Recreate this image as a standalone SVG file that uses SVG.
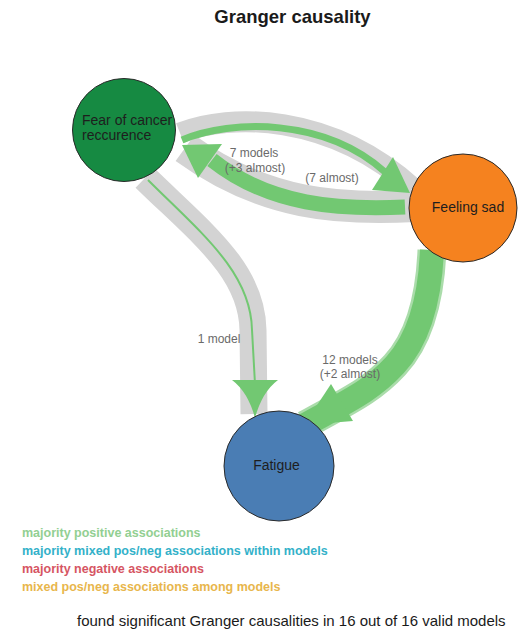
<svg xmlns="http://www.w3.org/2000/svg" width="528" height="633" viewBox="0 0 528 633">
<style>
.halo{fill:none;stroke:#d3d3d3;stroke-linecap:butt}
.gr{fill:none;stroke:#72c872;stroke-linecap:butt}
.ah{fill:#72c872}
.node{stroke:#2a2a2a;stroke-width:1}
.nt{font-family:"Liberation Sans",Arial,sans-serif;font-size:14px;fill:#1e1e1e}
.el{font-family:"Liberation Sans",Arial,sans-serif;font-size:12px;fill:#6a6a6a;text-anchor:middle}
.lg{font-family:"Liberation Sans",Arial,sans-serif;font-size:12.5px;font-weight:bold}
</style>
<rect width="528" height="633" fill="#ffffff"/>
<text x="292.5" y="23" text-anchor="middle" font-family="Liberation Sans, Arial, sans-serif" font-size="18.5" font-weight="bold" fill="#1a1a1a">Granger causality</text>
<g id="connectors">
  <!-- Fear -> Feeling sad (upper arc) -->
  <path class="halo" stroke-width="21" d="M180,133 C230,113 330,113 413,188"/>
  <!-- Feeling sad -> Fear (lower arc) -->
  <path class="halo" stroke-width="32" d="M415,206 C340,210 265,206 185,148"/>
  <!-- Fear -> Fatigue -->
  <path class="halo" stroke-width="27" d="M145,178 C200,232 252,270 253,330 L254,414"/>
  <!-- Feeling sad -> Fatigue -->
  <path fill="none" stroke="#aadcaa" stroke-width="29" d="M432,250 C430,300 418,340 395,365 C372,390 350,400 305,425"/>
  <!-- green cores -->
  <path class="gr" stroke-width="7" d="M182,140 C232,119 325,118 385,172"/>
  <path class="ah" d="M410,193 L393,157 L372,190 Z"/>
  <path class="gr" stroke-width="15" d="M405,207 C340,210 270,206 212,160"/>
  <path class="ah" d="M182,145 L222,144 L198,178 Z"/>
  <path class="gr" stroke-width="2" d="M148,180 C200,232 251,272 252,330 L255,384"/>
  <path class="ah" d="M232,380 L278,380 Q262,392 255,418 Q248,392 232,380 Z"/>
  <path class="gr" stroke-width="24" d="M432,250 C430,300 418,340 395,365 C372,390 350,400 305,425"/>
  <path class="ah" d="M331,384 L353,421 L304,425 Z"/>
</g>
<g id="node-fear">
  <circle class="node" cx="124" cy="130" r="51.5" fill="#168a42"/>
  <text class="nt" x="82" y="125">Fear of cancer</text>
  <text class="nt" x="82" y="140">reccurence</text>
</g>
<g id="node-sad">
  <circle class="node" cx="463" cy="208" r="54" fill="#f5821f"/>
  <text class="nt" x="468" y="212" text-anchor="middle">Feeling sad</text>
</g>
<g id="node-fatigue">
  <circle class="node" cx="279" cy="466" r="55" fill="#4a7db4"/>
  <text class="nt" x="276.5" y="470" text-anchor="middle">Fatigue</text>
</g>
<g id="edge-labels">
  <text class="el" x="254" y="157">7 models</text>
  <text class="el" x="255" y="172">(+3 almost)</text>
  <text class="el" x="332" y="182">(7 almost)</text>
  <text class="el" x="219" y="343">1 model</text>
  <text class="el" x="350" y="364">12 models</text>
  <text class="el" x="350" y="378">(+2 almost)</text>
</g>
<g id="legend">
  <text class="lg" x="22" y="537" fill="#92cf92">majority positive associations</text>
  <text class="lg" x="22" y="555" fill="#33b1c9">majority mixed pos/neg associations within models</text>
  <text class="lg" x="22" y="573" fill="#d65563">majority negative associations</text>
  <text class="lg" x="22" y="591" fill="#e8b64c">mixed pos/neg associations among models</text>
</g>
<text x="77" y="626" font-family="Liberation Sans, Arial, sans-serif" font-size="15" fill="#1a1a1a">found significant Granger causalities in 16 out of 16 valid models</text>
</svg>
